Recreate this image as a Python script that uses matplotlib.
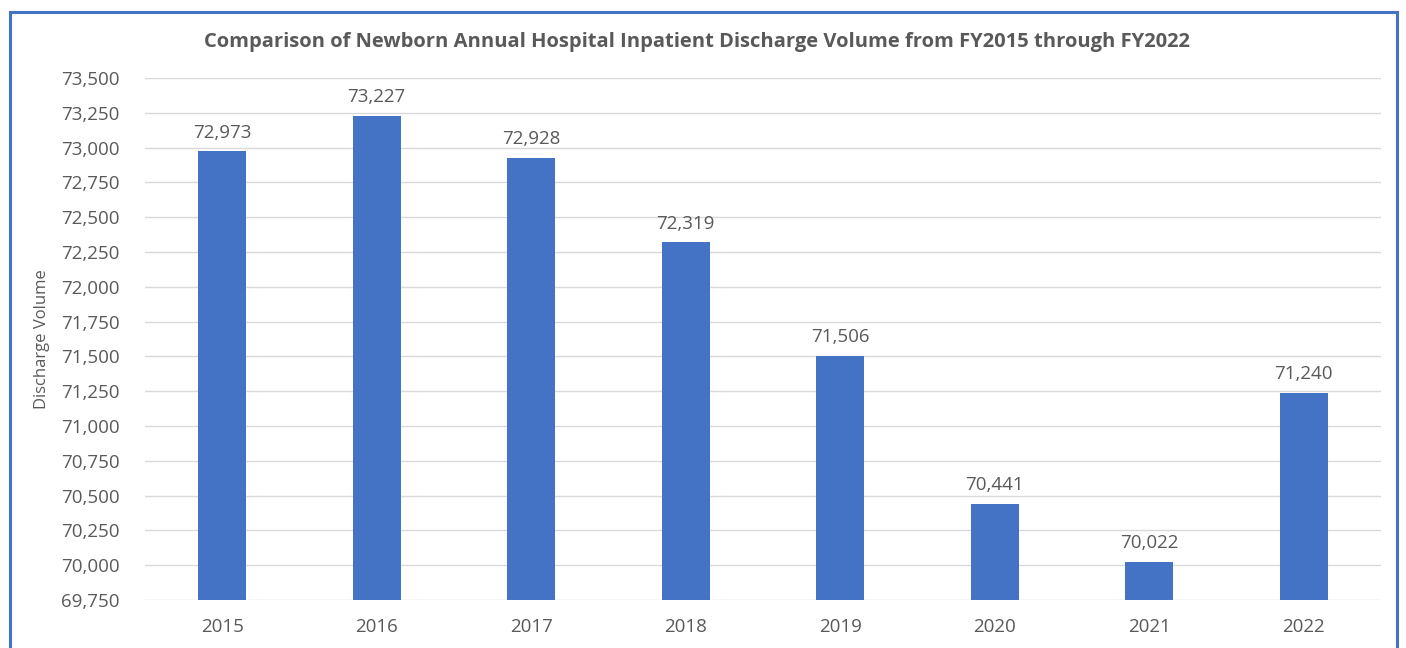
import matplotlib
matplotlib.use("Agg")
import matplotlib.pyplot as plt
from matplotlib.patches import Rectangle
from matplotlib.ticker import FuncFormatter, MultipleLocator

years = ["2015", "2016", "2017", "2018", "2019", "2020", "2021", "2022"]
discharges = [72973, 73227, 72928, 72319, 71506, 70441, 70022, 71240]

title = "Comparison of Newborn Annual Hospital Inpatient Discharge Volume from FY2015 through FY2022"
ylabel = "Discharge Volume"

bar_color = "#4472C4"
text_color = "#595959"
grid_color = "#D9D9D9"
font = ["Open Sans", "DejaVu Sans"]
plt.rcParams["font.family"] = font

W, H = 1406, 648
fig = plt.figure(figsize=(W / 100, H / 100), dpi=100)
fig.patch.set_facecolor("white")

# outer border
fig.patches.append(Rectangle((10 / W, -0.05), (1397 - 10) / W, (H - 12) / H + 0.05,
                             transform=fig.transFigure, fill=False,
                             edgecolor="#4472C4", linewidth=2.2))

ax = fig.add_axes([145 / W, 1 - 600 / H, (1381 - 145) / W, (600 - 78) / H])
x = list(range(len(years)))
ax.bar(x, discharges, width=0.31, color=bar_color, zorder=3)
ax.set_xlim(-0.5, len(years) - 0.5)
ax.set_ylim(69750, 73500)
ax.yaxis.set_major_locator(MultipleLocator(250))
ax.yaxis.set_major_formatter(FuncFormatter(lambda v, p: f"{int(v):,}"))
ax.set_xticks(x)
ax.set_xticklabels(years)
ax.grid(axis="y", color=grid_color, linewidth=1, zorder=0)
for s in ax.spines.values():
    s.set_visible(False)
ax.tick_params(axis="both", length=0, colors=text_color, labelsize=13.5)
ax.tick_params(axis="y", pad=18)
ax.tick_params(axis="x", pad=13)

for xi, v in zip(x, discharges):
    ax.annotate(f"{v:,}", (xi, v), xytext=(0, 7), textcoords="offset points",
                ha="center", va="bottom", fontsize=13.5, color=text_color)

ax.set_ylabel(ylabel, fontsize=12, color=text_color, labelpad=8)
fig.text(697 / W, 1 - 42 / H, title, ha="center", va="center",
         fontsize=14.5, fontweight="bold", color=text_color)

fig.savefig("out.png", dpi=100)
